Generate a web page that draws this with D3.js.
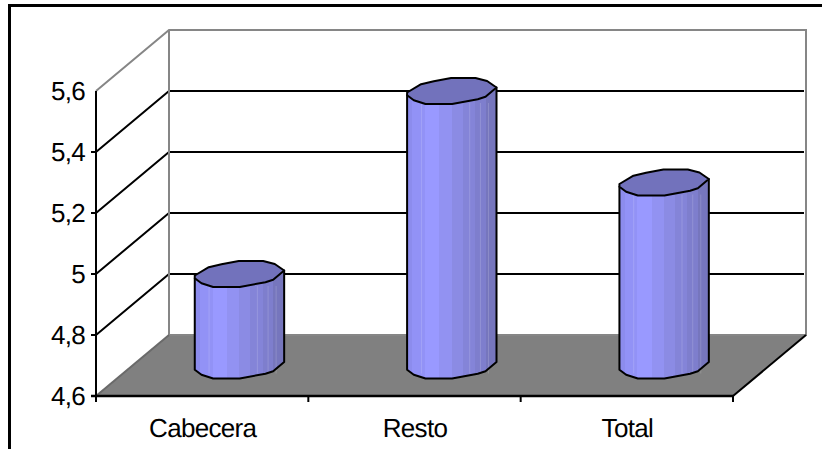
<!DOCTYPE html>
<html><head><meta charset="utf-8">
<script src="https://cdn.jsdelivr.net/npm/d3@7/dist/d3.min.js"></script>
<style>html,body{margin:0;padding:0;background:#fff}svg{display:block}text{font-family:"Liberation Sans",Arial,sans-serif;font-size:26px;letter-spacing:-0.7px;text-rendering:geometricPrecision;fill:#000}</style>
</head><body><svg id="c" width="822" height="449"></svg>
<script>
const categories = ["Cabecera", "Resto", "Total"];
const values = [4.9, 5.5, 5.2];
const yTicks = [4.6, 4.8, 5.0, 5.2, 5.4, 5.6];
const tickLabels = ["4,6", "4,8", "5", "5,2", "5,4", "5,6"];

const W = 822, H = 449;
const plotLeft = 96, plotRight = 733, plotBottom = 396, plotTop = 91, depthX = 73, depthY = 61;
const svg = d3.select("#c");
const x = d3.scaleBand().domain(categories).range([plotLeft, plotRight]);
const y = d3.scaleLinear().domain([4.6, 5.6]).range([plotBottom, plotTop]);
const line = d3.line();

// outer frame
svg.append("path").attr("d", line([[9.5, H], [9.5, 5.5], [W, 5.5]])).attr("fill", "none").attr("stroke", "#000").attr("stroke-width", 3);

// floor
svg.append("path").attr("d", line([[plotLeft, plotBottom], [plotRight, plotBottom], [plotRight + depthX, plotBottom - depthY], [plotLeft + depthX, plotBottom - depthY]]) + "Z").attr("fill", "#808080");

// gridlines on back wall and side wall
yTicks.slice(1, -1).forEach(t => {
  svg.append("path").attr("d", line([[plotLeft, y(t)], [plotLeft + depthX, y(t) - depthY], [plotRight + depthX - 2, y(t) - depthY]]))
    .attr("fill", "none").attr("stroke", "#000").attr("stroke-width", 2);
});

// back wall
const wallTop = y(5.6) - depthY, wallBot = y(4.6) - depthY;
svg.append("path").attr("d", line([[plotLeft, y(5.6)], [plotLeft + depthX, wallTop], [plotRight + depthX, wallTop], [plotRight + depthX, wallBot], [plotLeft + depthX, wallBot], [plotLeft + depthX, wallTop]]))
  .attr("fill", "none").attr("stroke", "#868686").attr("stroke-width", 2);
svg.append("path").attr("d", line([[plotLeft, plotBottom], [plotLeft + depthX, wallBot]])).attr("stroke", "#6a6a6a").attr("stroke-width", 2).attr("fill", "none");

// axes lines
svg.append("path").attr("d", line([[plotRight, plotBottom], [plotRight + depthX, wallBot]])).attr("stroke", "#000").attr("stroke-width", 2).attr("fill", "none");
svg.append("path").attr("d", line([[plotLeft, y(5.6)], [plotLeft, plotBottom + 6]])).attr("stroke", "#000").attr("stroke-width", 2).attr("fill", "none");
svg.append("path").attr("d", line([[plotLeft - 5, plotBottom], [plotRight, plotBottom]])).attr("stroke", "#000").attr("stroke-width", 2.4).attr("fill", "none");

yTicks.forEach((t, i) => {
  if (t < 5.6) svg.append("path").attr("d", line([[plotLeft - 5, y(t)], [plotLeft, y(t)]])).attr("stroke", "#000").attr("stroke-width", 2);
  svg.append("text").attr("x", 85).attr("y", y(t) + 9).attr("text-anchor", "end").text(tickLabels[i]);
});
[...categories.map(c => x(c)), plotRight].forEach(v => {
  svg.append("path").attr("d", line([[v, plotBottom], [v, plotBottom + 6]])).attr("stroke", "#000").attr("stroke-width", 2);
});
categories.forEach(c => {
  svg.append("text").attr("x", x(c) + x.bandwidth() / 2 + 0.5).attr("y", 436.5).attr("text-anchor", "middle").text(c);
});

// cylinder gradient (stepped facets)
const facets = [[0, "#8c8ced"], [.06, "#9292f6"], [.2, "#9999ff"], [.36, "#9292f2"], [.5, "#8b8be4"], [.62, "#8484d8"], [.76, "#7e7ecd"], [.88, "#7676bd"], [1, "#6a6aa8"]];
const grad = svg.append("defs").append("linearGradient").attr("id", "body");
facets.forEach((f, i) => {
  grad.append("stop").attr("offset", f[0]).attr("stop-color", f[1]);
  if (i < facets.length - 1) grad.append("stop").attr("offset", facets[i + 1][0]).attr("stop-color", f[1]);
});

const cap = [[-44.7, 1.5], [-30.7, -6.8], [-18, -9.8], [-0.7, -13], [23.7, -13], [35.3, -10], [44.7, -3.5], [33.7, 5.8], [26, 8.2], [0.3, 13], [-26.3, 13], [-38, 9.2], [-44.7, 4.2]];
const frontEdge = [[44.7, -3.5], [33.7, 5.8], [26, 8.2], [0.3, 13], [-26.3, 13], [-38, 9.2], [-44.7, 4.2]];

categories.forEach((c, i) => {
  const cx = x(c) + x.bandwidth() / 2 + depthX / 2 + 0.8;
  const topY = y(values[i]) - depthY / 2, baseY = y(4.6) - depthY / 2;
  const pts = frontEdge.map(p => [cx + p[0], baseY + p[1]]);
  const outline = [[cx + 44.7, topY - 3.5], ...pts, [cx - 44.7, topY + 4.2]];
  svg.append("path").attr("d", line(outline) + "Z").attr("fill", "url(#body)").attr("stroke", "none");
  [.16, .7, .82, .91].forEach(f => {
    const lx = cx - 44.7 + 89.4 * f;
    svg.append("path").attr("d", line([[lx, topY + 12], [lx, baseY + 8]])).attr("stroke", "#fff").attr("stroke-opacity", .16).attr("stroke-width", 1);
  });
  svg.append("path").attr("d", line(outline) + "Z").attr("fill", "none").attr("stroke", "#000").attr("stroke-width", 2).attr("stroke-linejoin", "round");
  svg.append("path").attr("d", d3.line().curve(d3.curveLinearClosed)(cap.map(p => [cx + p[0], topY + p[1]])))
    .attr("fill", "#7272bc").attr("stroke", "#000").attr("stroke-width", 2).attr("stroke-linejoin", "round");
});
</script></body></html>
